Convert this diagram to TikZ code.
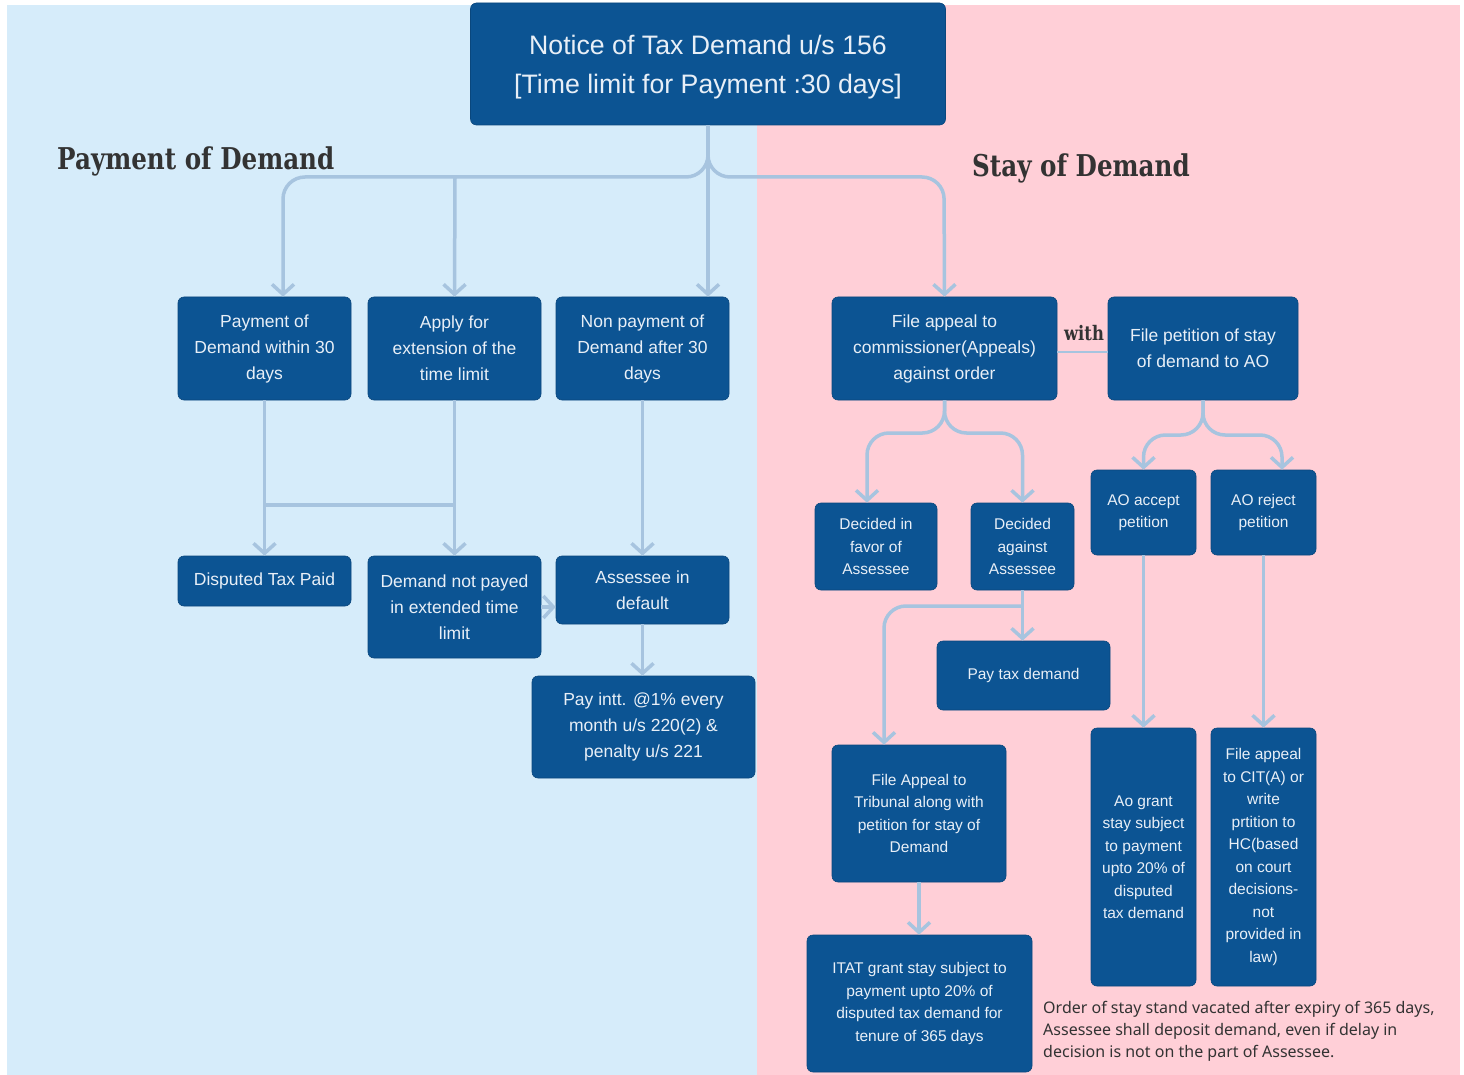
\documentclass[tikz,border=0pt]{standalone}
\usepackage{fontspec}
\setmainfont{Liberation Sans}
\newfontfamily\slabfont[FakeStretch=0.82]{DejaVu Serif}
\newfontfamily\notefont{Noto Sans}
\usetikzlibrary{arrows.meta}
\definecolor{bgblue}{HTML}{D6ECFA}
\definecolor{bgpink}{HTML}{FFCFD7}
\definecolor{boxblue}{HTML}{0C5493}
\definecolor{boxtext}{HTML}{E8EFF7}
\definecolor{lineblue}{HTML}{A7C4DF}
\definecolor{headgray}{HTML}{333333}
\begin{document}
\begin{tikzpicture}[x=1pt,y=-1pt,
  box/.style={fill=boxblue, draw=boxblue!85!black, line width=0.6pt, rounded corners=6pt,
    text=boxtext, align=center, inner sep=0pt},
  big/.style={font=\fontsize{26.7}{39}\selectfont},
  mid/.style={font=\fontsize{17.5}{26}\selectfont},
  sml/.style={font=\fontsize{15.5}{22.5}\selectfont},
  conn/.style={draw=lineblue, line width=3.5pt, rounded corners=22pt},
  arr/.style={conn, -{Straight Barb[length=10pt,width=22pt]}},
  heading/.style={text=headgray, font=\slabfont\bfseries\fontsize{30}{36}\selectfont, anchor=west, inner sep=0pt}
]
\useasboundingbox (0,0) rectangle (1464,1075);
\fill[bgblue] (7,5) rectangle (757,1075);
\fill[bgpink] (757,5) rectangle (1460,1075);

% headings
\node[heading] (hpay) at (57,161) {Payment of Demand};
\node[heading] (hstay) at (972,168) {Stay of Demand};

% top
\node[box, minimum width=475pt, minimum height=122pt] (top) at (708,64) {};
\node[text=boxtext, align=center, inner sep=0pt, big] (toptext) at (708,67)
  {Notice of Tax Demand u/s 156\\{[}Time limit for Payment :30 days{]}};

% row 1
\node[box, mid, minimum width=173pt, minimum height=103pt] (a1) at (264.5,348.5) {Payment of\\Demand within 30\\days};
\node[box, mid, minimum width=173pt, minimum height=103pt] (a2) at (454.5,348.5) {Apply for\\extension of the\\time limit};
\node[box, mid, minimum width=173pt, minimum height=103pt] (a3) at (642.5,348.5) {Non payment of\\Demand after 30\\days};
\node[box, mid, minimum width=225pt, minimum height=103pt] (b1) at (944.5,348.5) {File appeal to\\commissioner(Appeals)\\against order};
\node[box, mid, minimum width=190pt, minimum height=103pt] (b2) at (1203,348.5) {File petition of stay\\of demand to AO};

% row 2 left
\node[box, mid, minimum width=173pt, minimum height=50pt] (d1) at (264.5,581) {Disputed Tax Paid};
\node[box, mid, minimum width=173pt, minimum height=102pt] (d2) at (454.5,607) {Demand not payed\\in extended time\\limit};
\node[box, mid, minimum width=173pt, minimum height=68pt] (d3) at (642.5,590) {Assessee in\\default};
\node[box, mid, minimum width=223pt, minimum height=102pt] (d4) at (643.5,727) {Pay intt. @1\% every\\month u/s 220(2) \&\\penalty u/s 221};

% right
\node[box, sml, minimum width=122pt, minimum height=87pt] (c1) at (876,546.5) {Decided in\\favor of\\Assessee};
\node[box, sml, minimum width=103pt, minimum height=87pt] (c2) at (1022.5,546.5) {Decided\\against\\Assessee};
\node[box, sml, minimum width=105pt, minimum height=85pt] (e1) at (1143.5,512.5) {AO accept\\petition};
\node[box, sml, minimum width=105pt, minimum height=85pt] (e2) at (1263.5,512.5) {AO reject\\petition};
\node[box, sml, minimum width=173pt, minimum height=69pt] (p) at (1023.5,675.5) {Pay tax demand};
\node[box, sml, minimum width=174pt, minimum height=137pt] (t) at (919,813.5) {File Appeal to\\Tribunal along with\\petition for stay of\\Demand};
\node[box, sml, minimum width=225pt, minimum height=137pt] (i) at (919.5,1003.5) {ITAT grant stay subject to\\payment upto 20\% of\\disputed tax demand for\\tenure of 365 days};
\node[box, sml, minimum width=105pt, minimum height=258pt] (g) at (1143.5,857) {Ao grant\\stay subject\\to payment\\upto 20\% of\\disputed\\tax demand};
\node[box, sml, minimum width=105pt, minimum height=258pt] (f) at (1263.5,857) {File appeal\\to CIT(A) or\\write\\prtition to\\HC(based\\on court\\decisions-\\not\\provided in\\law)};

% note
\node[anchor=north west, align=left, inner sep=0pt, text=headgray,
  font=\notefont\fontsize{16}{22}\selectfont] (note) at (1043,1001)
  {Order of stay stand vacated after expiry of 365 days,\\Assessee shall deposit demand, even if delay in\\decision is not on the part of Assessee.};

% "with"
\node[text=headgray, font=\slabfont\bfseries\fontsize{20}{24}\selectfont, inner sep=0pt] (with) at (1084,333) {with};
\draw[draw=lineblue, line width=2pt] (b1.east |- 0,352) -- (b2.west |- 0,352);

% top fork
\draw[arr] (top.south) -- (708,177) -- (283,177) -- ([xshift=18.5pt]a1.north);
\draw[arr] (top.south) -- (708,177) -- (944,177) -- (b1.north);
\draw[arr] (top.south) -- ([xshift=65.5pt]a3.north);
\draw[arr] (455,177) -- (a2.north);

% left lower
\draw[arr] (a1.south) -- (d1.north);
\draw[arr] (a2.south) -- (d2.north);
\draw[conn] (264.5,505) -- (454.5,505);
\draw[arr] (a3.south) -- (d3.north);
\draw[arr] (d2.east |- 0,607) -- (d3.west |- 0,607);
\draw[arr] (d3.south) -- (d3.south |- d4.north);

% B1 fork
\draw[arr] (b1.south) -- (944.5,433) -- (867,433) -- ([xshift=-9pt]c1.north);
\draw[arr] (b1.south) -- (944.5,433) -- (1022.5,433) -- (c2.north);

% B2 fork
\draw[arr] (b2.south) -- (1203,435) -- (1143.5,435) -- (e1.north);
\draw[arr] (b2.south) -- (1203,435) -- (1282,435) -- ([xshift=18.5pt]e2.north);

% decided against
\draw[arr] (c2.south) -- (c2.south |- p.north);
\draw[arr] (1022.5,606) -- (884,606) -- ([xshift=-35pt]t.north);
\draw[arr] (t.south) -- (t.south |- i.north);

\draw[arr] (e1.south) -- (g.north);
\draw[arr] (e2.south) -- (f.north);
\end{tikzpicture}
\end{document}
